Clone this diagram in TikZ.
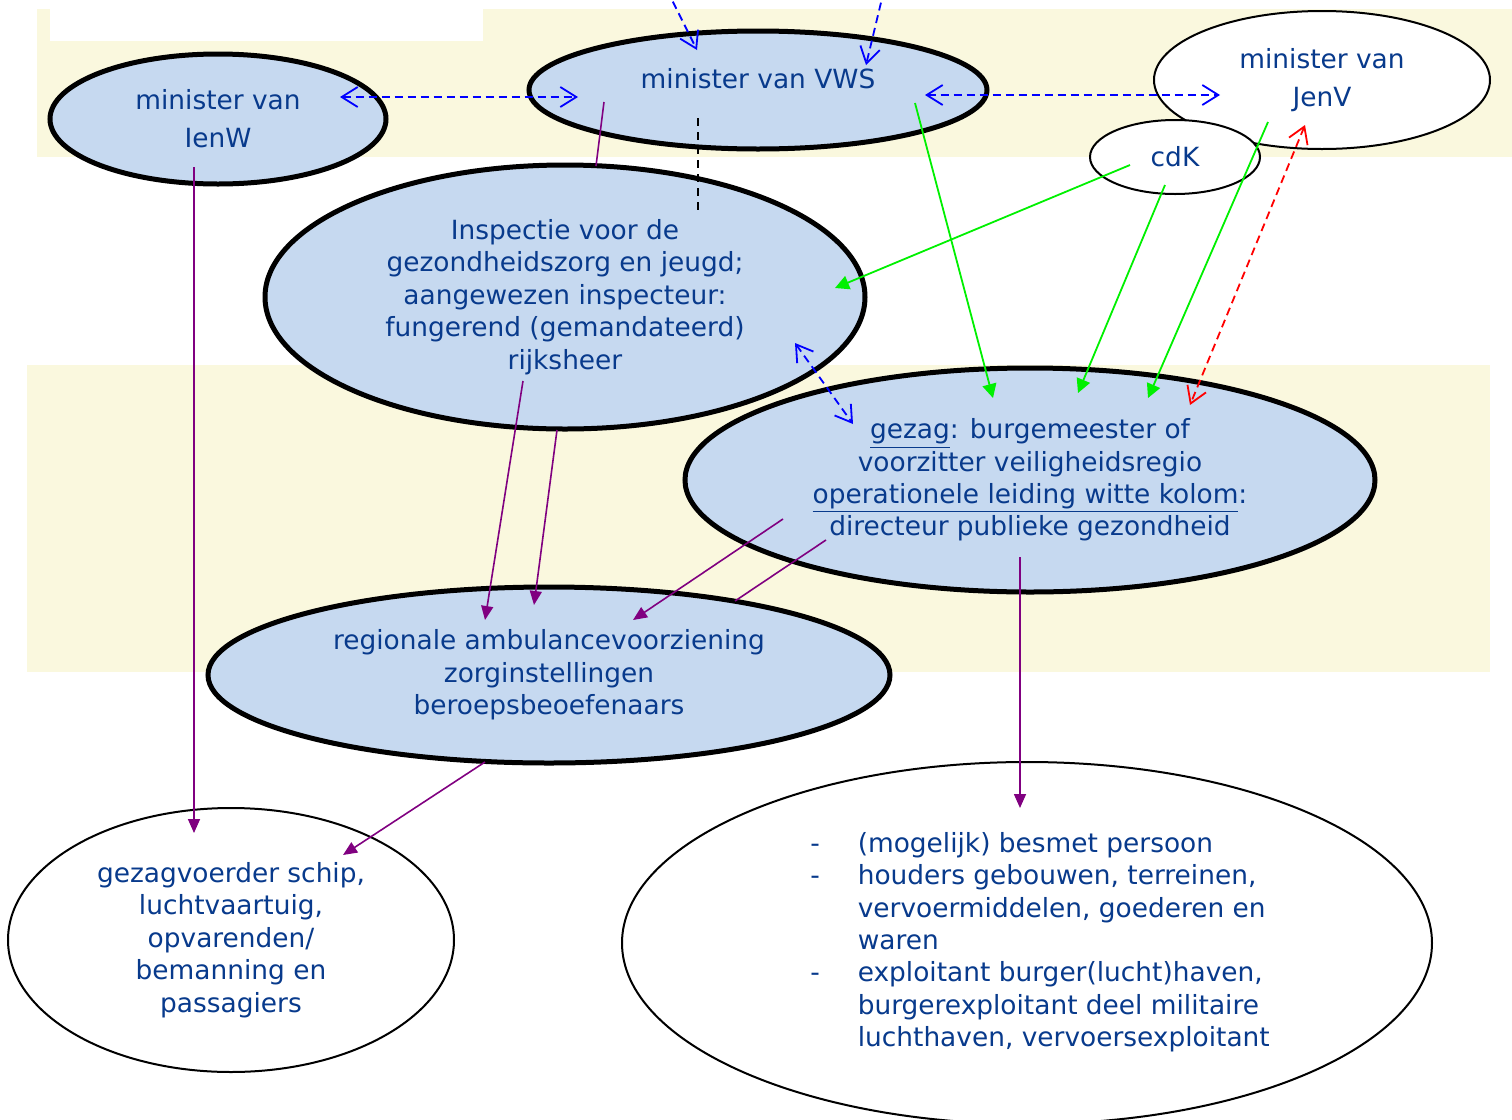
\documentclass[tikz,border=0pt]{standalone}
\usepackage{fontspec}
\setmainfont{DejaVu Sans}
\usepackage{tikz}
\usetikzlibrary{shapes.geometric,arrows.meta,calc}

\definecolor{tekst}{RGB}{8,58,140}
\definecolor{lichtblauw}{RGB}{198,217,240}
\definecolor{geel}{RGB}{250,248,222}
\definecolor{paars}{RGB}{128,0,128}
\definecolor{groen}{RGB}{0,240,0}

\begin{document}
\begin{tikzpicture}[x=0.5pt, y=-0.5pt,
								filled/.style = {ellipse, draw, line width = 2.5pt, fill = 
								lichtblauw, inner sep = 0pt, align = center, text = tekst,
								font = \fontsize{13.2}{16.2}\selectfont},
								empty/.style = {ellipse, draw, line width = 1pt, fill = 
								white, inner sep = 0pt, align = center, text = tekst,
								font = \fontsize{13.2}{16.2}\selectfont},
								purplearrow/.style = {draw = paars, line width = 0.8pt,
								-{Triangle[length = 7pt, width = 6pt]}},
								greenarrow/.style = {draw = groen, line width = 0.9pt,
								-{Triangle[length = 7pt, width = 7pt]}},
								dashline/.style = {line width = 0.9pt, dash pattern = on 4pt off 2.5pt},
								bluearrow/.style = {dashline, draw = blue,
								-{Straight Barb[length = 8pt, width = 10pt]}},
								bluedash/.style = {dashline, draw = blue,
								{Straight Barb[length = 8pt, width = 10pt]}-{Straight Barb[length = 8pt, width = 10pt]}},
								reddash/.style = {dashline, draw = red,
								{Straight Barb[length = 8pt, width = 10pt]}-{Straight Barb[length = 8pt, width = 10pt]}}]

				\useasboundingbox (0,0) rectangle (1512,1120);
				\fill [geel] (37,9) rectangle (1512,157);
				\fill [white] (50,9) rectangle (483,41);
				\fill [geel] (27,365) rectangle (1490,672);

				\node [filled, minimum width = 168pt, minimum height = 65pt, font = \fontsize{13.2}{19}\selectfont] (m_ienw) at (218,119) {minister van\\IenW};
				\node [filled, minimum width = 229pt, minimum height = 59pt] (m_vws) at (758,90) {\raisebox{5.5pt}[\height][\depth]{minister van VWS}};
				\node [empty, minimum width = 168pt, minimum height = 69pt, font = \fontsize{13.2}{19}\selectfont] (m_jenv) at (1322,80) {minister van\\JenV};
				\node [empty, minimum width = 85pt, minimum height = 37pt] (cdk) at (1175,157) {cdK};
				\node [filled, minimum width = 300pt, minimum height = 132pt] (igj) at (565,297) {Inspectie voor de\\gezondheidszorg en jeugd;\\aangewezen inspecteur:\\fungerend (gemandateerd)\\rijksheer};
				\node [filled, minimum width = 345pt, minimum height = 112pt] (gezag) at (1030,480) {\underline{gezag}: burgemeester of\\voorzitter veiligheidsregio\\\underline{operationele leiding witte kolom}:\\directeur publieke gezondheid};
				\node [filled, minimum width = 341pt, minimum height = 88pt] (rav) at (549,675) {regionale ambulancevoorziening\\zorginstellingen\\beroepsbeoefenaars};
				\node [empty, minimum width = 223pt, minimum height = 132pt] (schip) at (231,940) {gezagvoerder schip,\\luchtvaartuig,\\opvarenden/\\bemanning en\\passagiers};
				\node [empty, minimum width = 405pt, minimum height = 181pt] (burger) at (1027,943) {\hspace{13pt}\begin{tabular}{@{}l@{\hspace{19pt}}l@{}}
				-& (mogelijk) besmet persoon\\
				-& houders gebouwen, terreinen,\\
				 & vervoermiddelen, goederen en\\
				 & waren\\
				-& exploitant burger(lucht)haven,\\
				 & burgerexploitant deel militaire\\
				 & luchthaven, vervoersexploitant
				\end{tabular}};

				\coordinate (boven_1) at (667,-10);
				\coordinate (boven_2) at (884,-10);

				\draw [bluedash] ($(m_ienw)+(122,-22)$) -- ($(m_vws)+(-180,7)$);
				\draw [bluedash] ($(m_vws)+(167,5)$) -- ($(m_jenv)+(-102,15)$);
				\draw [bluearrow] (boven_1) -- ($(m_vws)+(-61,-40)$);
				\draw [bluearrow] (boven_2) -- ($(m_vws)+(108,-25)$);
				\draw [bluedash] ($(igj)+(230,46)$) -- ($(gezag)+(-177,-56)$);
				\draw [reddash] ($(m_jenv)+(-17,45)$) -- ($(gezag)+(160,-75)$);
				\draw [line width = 0.9pt, dash pattern = on 4pt off 3pt] ($(m_vws)+(-60,28)$) -- ($(igj)+(133,-87)$);

				\draw [draw = paars, line width = 0.8pt] ($(m_vws)+(-154,12)$) -- ($(igj)+(31,-131)$);
				\draw [purplearrow] ($(m_ienw)+(-24,48)$) -- ($(schip)+(-37,-107)$);
				\draw [purplearrow] ($(igj)+(-42,84)$) -- ($(rav)+(-64,-55)$);
				\draw [purplearrow] ($(igj)+(-8,133)$) -- ($(rav)+(-15,-70)$);
				\draw [purplearrow] ($(gezag)+(-247,39)$) -- ($(rav)+(84,-55)$);
				\draw [draw = paars, line width = 0.8pt] ($(gezag)+(-204,60)$) -- ($(rav)+(186,-74)$);
				\draw [purplearrow] ($(rav)+(-64,87)$) -- ($(schip)+(112,-85)$);
				\draw [purplearrow] ($(gezag)+(-10,77)$) -- ($(burger)+(-7,-135)$);

				\draw [greenarrow] ($(cdk)+(-45,8)$) -- ($(igj)+(270,-9)$);
				\draw [greenarrow] ($(m_vws)+(157,13)$) -- ($(gezag)+(-37,-82)$);
				\draw [greenarrow] ($(cdk)+(-10,28)$) -- ($(gezag)+(48,-87)$);
				\draw [greenarrow] ($(m_jenv)+(-54,42)$) -- ($(gezag)+(118,-82)$);
			\end{tikzpicture}
\end{document}
